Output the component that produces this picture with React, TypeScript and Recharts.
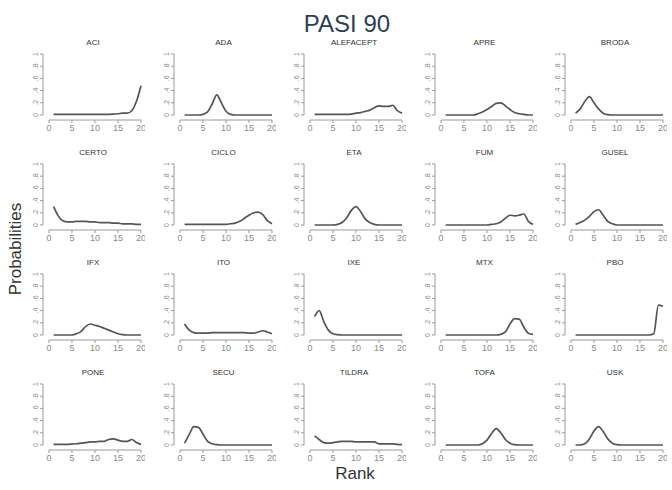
import { LineChart, Line, XAxis, YAxis, ReferenceLine } from 'recharts'

const RANKS = [1, 2, 3, 4, 5, 6, 7, 8, 9, 10, 11, 12, 13, 14, 15, 16, 17, 18, 19, 20]
const X_TICKS = [0, 5, 10, 15, 20]
const Y_TICKS = [0, 0.2, 0.4, 0.6, 0.8, 1]
const Y_TICK_LABELS = ['0', '.2', '.4', '.6', '.8', '1']

const NAMES = [
  'ACI', 'ADA', 'ALEFACEPT', 'APRE', 'BRODA',
  'CERTO', 'CICLO', 'ETA', 'FUM', 'GUSEL',
  'IFX', 'ITO', 'IXE', 'MTX', 'PBO',
  'PONE', 'SECU', 'TILDRA', 'TOFA', 'USK',
]

const ACI = [0.01, 0.01, 0.01, 0.01, 0.01, 0.01, 0.01, 0.01, 0.01, 0.01, 0.01, 0.01, 0.01, 0.015, 0.02, 0.03, 0.03, 0.07, 0.22, 0.48]
const ADA = [0, 0, 0, 0, 0.01, 0.05, 0.18, 0.33, 0.2, 0.06, 0.01, 0, 0, 0, 0, 0, 0, 0, 0, 0]
const ALEFACEPT = [0.01, 0.01, 0.01, 0.01, 0.01, 0.01, 0.01, 0.01, 0.015, 0.03, 0.04, 0.06, 0.08, 0.12, 0.15, 0.14, 0.14, 0.16, 0.07, 0.03]
const APRE = [0, 0, 0, 0, 0, 0, 0, 0.02, 0.05, 0.09, 0.14, 0.19, 0.2, 0.15, 0.09, 0.04, 0.02, 0.01, 0, 0]
const BRODA = [0.03, 0.1, 0.22, 0.3, 0.2, 0.1, 0.03, 0.005, 0, 0, 0, 0, 0, 0, 0, 0, 0, 0, 0, 0]
const CERTO = [0.3, 0.15, 0.07, 0.05, 0.05, 0.06, 0.06, 0.06, 0.05, 0.05, 0.04, 0.04, 0.04, 0.03, 0.03, 0.02, 0.02, 0.02, 0.01, 0.01]
const CICLO = [0.01, 0.01, 0.01, 0.01, 0.01, 0.01, 0.01, 0.01, 0.01, 0.01, 0.02, 0.03, 0.06, 0.11, 0.16, 0.2, 0.21, 0.17, 0.07, 0.02]
const ETA = [0, 0, 0, 0, 0, 0.01, 0.04, 0.12, 0.24, 0.3, 0.22, 0.1, 0.04, 0.01, 0, 0, 0, 0, 0, 0]
const FUM = [0, 0, 0, 0, 0, 0, 0, 0, 0, 0, 0.01, 0.02, 0.05, 0.11, 0.16, 0.15, 0.16, 0.18, 0.06, 0.01]
const GUSEL = [0.01, 0.04, 0.08, 0.14, 0.22, 0.25, 0.16, 0.06, 0.02, 0, 0, 0, 0, 0, 0, 0, 0, 0, 0, 0]
const IFX = [0, 0, 0, 0, 0, 0.02, 0.06, 0.14, 0.18, 0.16, 0.14, 0.11, 0.08, 0.05, 0.02, 0.005, 0, 0, 0, 0]
const ITO = [0.18, 0.08, 0.04, 0.03, 0.03, 0.03, 0.04, 0.04, 0.04, 0.04, 0.04, 0.04, 0.04, 0.04, 0.03, 0.03, 0.05, 0.07, 0.05, 0.02]
const IXE = [0.3, 0.4, 0.22, 0.08, 0.02, 0.005, 0, 0, 0, 0, 0, 0, 0, 0, 0, 0, 0, 0, 0, 0]
const MTX = [0, 0, 0, 0, 0, 0, 0, 0, 0, 0, 0, 0, 0.01, 0.05, 0.18, 0.27, 0.26, 0.13, 0.03, 0.01]
const PBO = [0, 0, 0, 0, 0, 0, 0, 0, 0, 0, 0, 0, 0, 0, 0, 0, 0, 0.02, 0.49, 0.47]
const PONE = [0.01, 0.01, 0.01, 0.01, 0.015, 0.02, 0.03, 0.04, 0.05, 0.05, 0.06, 0.06, 0.09, 0.1, 0.08, 0.06, 0.06, 0.09, 0.04, 0.01]
const SECU = [0.03, 0.17, 0.3, 0.29, 0.18, 0.06, 0.02, 0.005, 0, 0, 0, 0, 0, 0, 0, 0, 0, 0, 0, 0]
const TILDRA = [0.15, 0.09, 0.04, 0.03, 0.04, 0.05, 0.06, 0.06, 0.06, 0.05, 0.05, 0.05, 0.05, 0.05, 0.02, 0.02, 0.02, 0.02, 0.01, 0.005]
const TOFA = [0, 0, 0, 0, 0, 0, 0, 0, 0.02, 0.08, 0.19, 0.27, 0.2, 0.09, 0.03, 0.005, 0, 0, 0, 0]
const USK = [0, 0, 0.02, 0.1, 0.23, 0.3, 0.22, 0.1, 0.03, 0.005, 0, 0, 0, 0, 0, 0, 0, 0, 0, 0]

const SERIES = [
  ACI, ADA, ALEFACEPT, APRE, BRODA,
  CERTO, CICLO, ETA, FUM, GUSEL,
  IFX, ITO, IXE, MTX, PBO,
  PONE, SECU, TILDRA, TOFA, USK,
]

const X_DOMAIN: [number, number] = [-1.3, 20.44]
const Y_DOMAIN: [number, number] = [-0.082, 1.049]
const FONT = '"Liberation Sans", Arial, sans-serif'
const AXIS_GREY = '#9a9a9a'
const TICK_GREY = '#8a8a8a'

function YTick(props: any) {
  const { x, y, payload } = props
  const idx = Y_TICKS.indexOf(payload.value)
  const label = idx >= 0 ? Y_TICK_LABELS[idx] : String(payload.value)
  return (
    <text
      x={x}
      y={y}
      transform={`rotate(-90 ${x} ${y})`}
      textAnchor="middle"
      fontSize={7}
      fill={TICK_GREY}
      fontFamily={FONT}
    >
      {label}
    </text>
  )
}

function Panel({ name, values, left, top }: { name: string; values: number[]; left: number; top: number }) {
  const data = RANKS.map((rank, i) => ({ rank, p: values[i] }))
  return (
    <div style={{ position: 'absolute', left, top, width: 130, height: 110 }}>
      <div
        style={{
          position: 'absolute',
          left: 28,
          width: 100,
          top: 8,
          textAlign: 'center',
          fontSize: 8,
          lineHeight: '10px',
          color: '#333',
          fontFamily: FONT,
        }}
      >
        {name}
      </div>
      <LineChart width={130} height={110} data={data} margin={{ top: 21, right: 2, bottom: 0, left: 0 }}>
        <XAxis
          type="number"
          dataKey="rank"
          domain={X_DOMAIN}
          ticks={X_TICKS}
          allowDataOverflow
          interval={0}
          height={20}
          axisLine={false}
          tickSize={3}
          tickLine={{ stroke: AXIS_GREY }}
          tick={{ fontSize: 9, fill: TICK_GREY, fontFamily: FONT }}
        />
        <YAxis
          type="number"
          domain={Y_DOMAIN}
          ticks={Y_TICKS}
          allowDataOverflow
          interval={0}
          width={28}
          axisLine={false}
          tickSize={3}
          tickLine={{ stroke: AXIS_GREY }}
          tick={<YTick />}
        />
        <ReferenceLine
          segment={[{ x: 0, y: Y_DOMAIN[0] }, { x: 20, y: Y_DOMAIN[0] }]}
          stroke={AXIS_GREY}
          ifOverflow="visible"
        />
        <ReferenceLine
          segment={[{ x: X_DOMAIN[0], y: 0 }, { x: X_DOMAIN[0], y: 1 }]}
          stroke={AXIS_GREY}
          ifOverflow="visible"
        />
        <Line
          type="monotone"
          dataKey="p"
          stroke="#555"
          strokeWidth={1.7}
          dot={false}
          isAnimationActive={false}
        />
      </LineChart>
    </div>
  )
}

export default function App() {
  return (
    <div style={{ position: 'relative', width: 672, height: 490, background: '#fff', overflow: 'hidden' }}>
      <style>{'body{margin:0}'}</style>
      <svg width={672} height={490} style={{ position: 'absolute', left: 0, top: 0 }}>
        <text x={347} y={32} textAnchor="middle" fontSize={24} fill="#2f3f52" fontFamily={FONT}>
          PASI 90
        </text>
        <text
          x={21}
          y={249}
          transform="rotate(-90 21 249)"
          textAnchor="middle"
          fontSize={17}
          fill="#333"
          fontFamily={FONT}
        >
          Probabilities
        </text>
        <text x={355} y={479} textAnchor="middle" fontSize={17} fill="#333" fontFamily={FONT}>
          Rank
        </text>
      </svg>
      {NAMES.map((name, i) => (
        <Panel
          key={name}
          name={name}
          values={SERIES[i]}
          left={15 + 130.5 * (i % 5)}
          top={30 + 110 * Math.floor(i / 5)}
        />
      ))}
    </div>
  )
}
